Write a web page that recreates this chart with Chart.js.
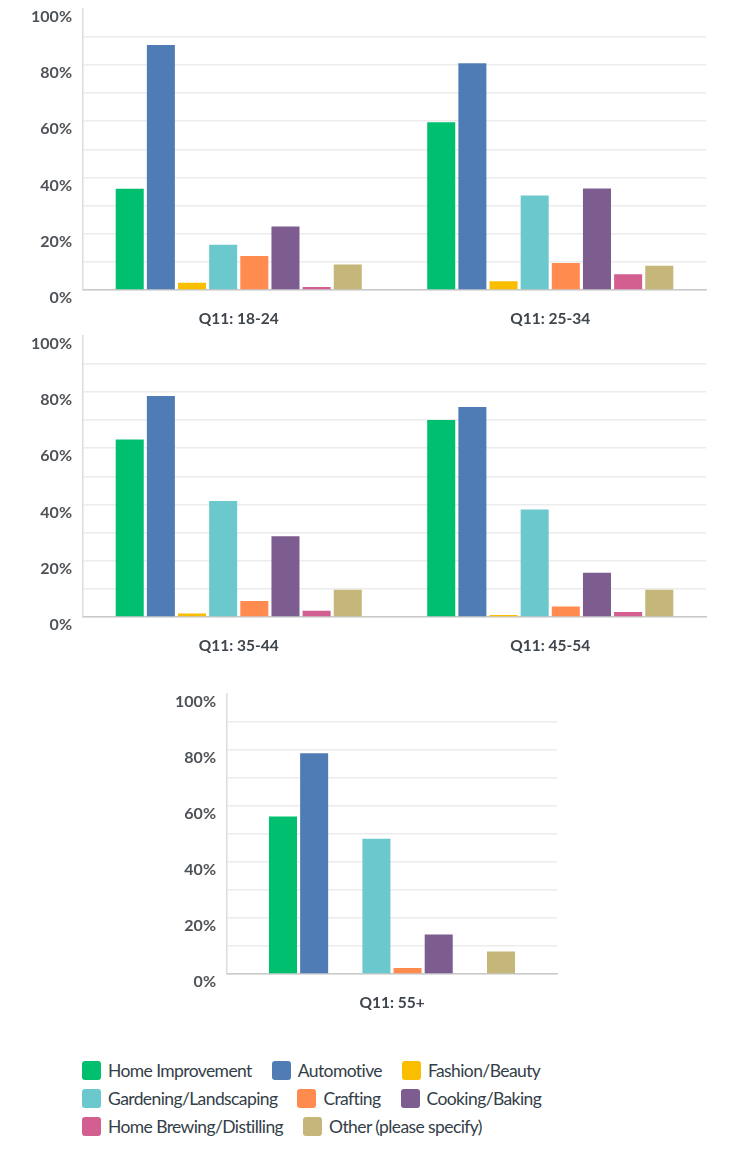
<!DOCTYPE html>
<html>
<head>
<meta charset="utf-8">
<script src="https://cdn.jsdelivr.net/npm/chart.js@4.4.1/dist/chart.umd.min.js"></script>
<style>
  body { margin: 0; background: #fff; width: 747px; height: 1151px; position: relative; overflow: hidden; }
  .box { position: absolute; left: 0; width: 747px; }
  #legend { position: absolute; left: 82px; top: 1056px; width: 500px; display: flex; flex-wrap: wrap;
            font-family: Lato, sans-serif; font-size: 17.5px; letter-spacing: -0.6px; color: #333e48; }
  #legend .item { display: flex; align-items: center; margin-right: 20px; height: 28px; }
  #legend .sw { width: 19px; height: 19px; border-radius: 3px; margin-right: 7px; }
</style>
</head>
<body>
<div class="box" style="top:-12px;height:342px"><canvas id="row1"></canvas></div>
<div class="box" style="top:315px;height:340px"><canvas id="row2"></canvas></div>
<div class="box" style="top:673px;height:347px"><canvas id="row3"></canvas></div>
<div id="legend"></div>
<script>
// age groups (x categories)
const ageGroups = ["Q11: 18-24", "Q11: 25-34", "Q11: 35-44", "Q11: 45-54", "Q11: 55+"];

// interests (series)
const interests = ["Home Improvement", "Automotive", "Fashion/Beauty", "Gardening/Landscaping",
                   "Crafting", "Cooking/Baking", "Home Brewing/Distilling", "Other (please specify)"];
const interestColors = ["#00bf6f", "#507cb6", "#f9be00", "#6bc8cd", "#ff8b4f", "#7d5c8f", "#d25f90", "#c5b67a"];

// percent of respondents, one value per age group
const homeImprovement = [36.0, 59.6, 63.1, 70.0, 56.2];
const automotive      = [87.1, 80.6, 78.5, 74.6, 78.7];
const fashionBeauty   = [2.6, 3.1, 1.2, 0.7, 0];
const gardening       = [16.1, 33.6, 41.2, 38.2, 48.2];
const crafting        = [12.1, 9.6, 5.7, 3.7, 2.1];
const cookingBaking   = [22.6, 36.1, 28.7, 15.7, 14.1];
const homeBrewing     = [1.1, 5.6, 2.2, 1.8, 0];
const otherSpecify    = [9.1, 8.6, 9.7, 9.7, 8.0];

const seriesValues = [homeImprovement, automotive, fashionBeauty, gardening,
                      crafting, cookingBaking, homeBrewing, otherSpecify];

// y axis: gridline every 10, label every 20
const yMax = 100;
const yStep = 10;

function makeRow(id, from, to, opts) {
    const datasets = interests.map((name, i) => ({
        label: name,
        data: seriesValues[i].slice(from, to),
        backgroundColor: interestColors[i],
        borderWidth: 0,
        barPercentage: 0.9,
        categoryPercentage: opts.catPct
    }));
    return new Chart(document.getElementById(id), {
        type: 'bar',
        data: { labels: ageGroups.slice(from, to), datasets: datasets },
        options: {
            responsive: true,
            maintainAspectRatio: false,
            animation: false,
            layout: { padding: { top: 0, right: opts.right, left: 0, bottom: 0 } },
            plugins: { legend: { display: false }, tooltip: { enabled: false } },
            scales: {
                x: {
                    grid: { display: false, drawTicks: false },
                    border: { color: '#c9c9c9', width: 1.5 },
                    ticks: {
                        padding: 20,
                        color: '#3f454c',
                        font: { family: 'Lato', size: 15.5, weight: 'bold' }
                    },
                    afterFit: s => { s.height = opts.xh; }
                },
                y: {
                    min: 0,
                    max: yMax,
                    grid: {
                        drawTicks: false,
                        color: ctx => ctx.tick && ctx.tick.value === yMax ? 'rgba(0,0,0,0)' : '#ececec',
                        lineWidth: 1.5
                    },
                    border: { color: '#dcdcdc', width: 1.5 },
                    ticks: {
                        stepSize: yStep,
                        padding: 11,
                        labelOffset: 8,
                        color: '#4d5257',
                        font: { family: 'Lato', size: 16, weight: 'bold' },
                        callback: v => v % 20 === 0 ? v + '%' : ''
                    },
                    afterFit: s => { s.width = opts.yw; }
                }
            }
        }
    });
}

makeRow('row1', 0, 2, { right: 41, xh: 40, yw: 83, catPct: 0.8 });
makeRow('row2', 2, 4, { right: 41, xh: 38, yw: 83, catPct: 0.8 });
makeRow('row3', 4, 5, { right: 190, xh: 46, yw: 227, catPct: 0.755 });

// legend
const legend = document.getElementById('legend');
interests.forEach((name, i) => {
    const item = document.createElement('div');
    item.className = 'item';
    const sw = document.createElement('span');
    sw.className = 'sw';
    sw.style.background = interestColors[i];
    const txt = document.createElement('span');
    txt.textContent = name;
    item.appendChild(sw);
    item.appendChild(txt);
    legend.appendChild(item);
});
</script>
</body>
</html>
